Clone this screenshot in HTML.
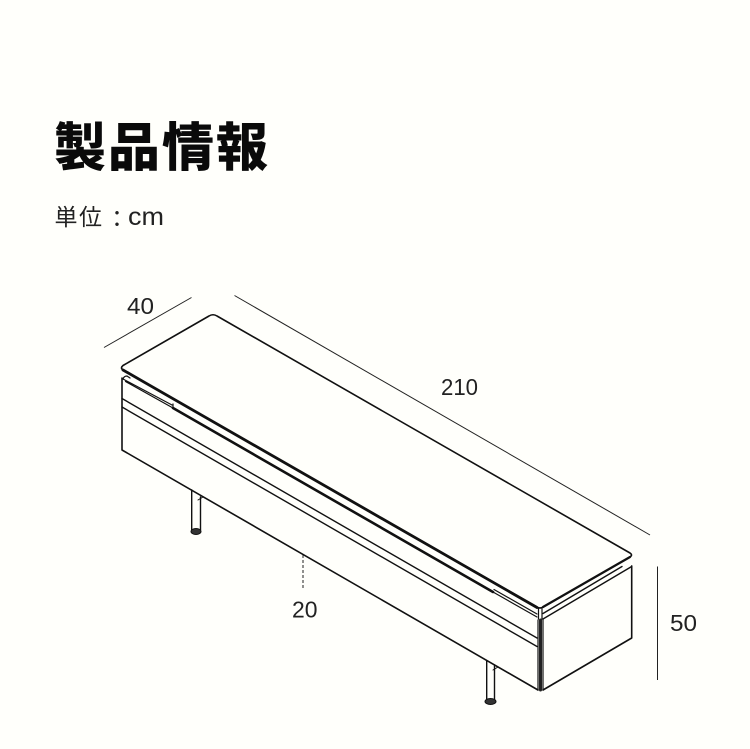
<!DOCTYPE html>
<html lang="ja"><head><meta charset="utf-8"><style>
html,body{margin:0;padding:0;background:#fffffb}
svg{display:block}
text{fill:#222}
.d{font-family:"Liberation Sans",sans-serif;font-size:23px}
.j{font-family:"Liberation Sans","Noto Sans CJK JP",sans-serif}
</style></head><body>
<svg width="750" height="749" viewBox="0 0 750 749" xmlns="http://www.w3.org/2000/svg">
<rect width="750" height="749" fill="#fffffb"/>
<text class="j" x="54" y="166" style="font-size:52px;font-weight:900;letter-spacing:2px;fill:#0a0a0a">製品情報</text>
<text class="j" x="54.500" y="225" style="font-size:23px;letter-spacing:1.5px">単位</text>
<text class="j" x="105.500" y="227" style="font-size:23px">：</text>
<text class="j" x="128" y="225" style="font-size:25px" textLength="36" lengthAdjust="spacingAndGlyphs">cm</text>

<g fill="none" stroke="#111" stroke-linecap="round" stroke-linejoin="round">
<!-- legs -->
<path d="M191.7 490V530M200.5 497V530" stroke-width="1.4"/>
<ellipse cx="196" cy="531.5" rx="5" ry="3" fill="#333" stroke-width="1"/>
<path d="M486.7 661V700M494.5 665V700" stroke-width="1.4"/>
<ellipse cx="490.5" cy="701.5" rx="5.5" ry="3" fill="#333" stroke-width="1"/>
<path d="M198 500L203 497M493 670L498 667" stroke-width="1"/>
<!-- top surface -->
<path d="M123 365.5L209 316Q213 313.5 217 316L630 553Q633 555 630 557L543 607Q540 609 537 607L123 370Q120 368 123 365.5Z" fill="#fffffb" stroke-width="1.6"/>
<path d="M123 370L537 607.5" stroke-width="2.8"/>
<path d="M543 607L630 557" stroke-width="2.2"/>
<!-- body -->
<path d="M122 378V450L538 690" stroke-width="1.6"/>
<path d="M543 690L631.7 638V566" stroke-width="1.6"/>
<path d="M543 619L630 567.5Q631.7 566.5 631.7 566" stroke-width="1.4"/>
<path d="M543 613.5L622 566.5" stroke-width="1.4"/>
<!-- front grooves -->
<path d="M122 398.5L537 638" stroke-width="1.4"/>
<path d="M122 407L537 646.5" stroke-width="1.4"/>
<path d="M173 408L493 592" stroke-width="2.6"/>
<path d="M123 379L172 405M125.500 381.500L173 408V404" stroke-width="1.2"/>
<path d="M123 379Q124 376 127 376L130 378" stroke-width="1.2"/>
<path d="M493 592L537 617M494 589.500L537 614" stroke-width="1.2"/>
<!-- corner post -->
<path d="M538 690V620M543 690V619" stroke-width="1.2"/>
<path d="M540.5 620V690" stroke-width="3" stroke="#222"/>
<path d="M538.500 608V619M542 608V619" stroke-width="1.2"/>
</g>

<!-- dimensions -->
<g fill="none" stroke="#222" stroke-width="1">
<path d="M104 347.500L191.500 297.500"/>
<path d="M234.500 295.500L650 535"/>
<path d="M657.500 566.500V680"/>
<path d="M303 555V590" stroke-dasharray="3 2"/>
</g>
<text class="d" x="127" y="314" textLength="27" lengthAdjust="spacingAndGlyphs">40</text>
<text class="d" x="441" y="395" textLength="37" lengthAdjust="spacingAndGlyphs">210</text>
<text class="d" x="292" y="617.500" textLength="25.500" lengthAdjust="spacingAndGlyphs">20</text>
<text class="d" x="670" y="631" textLength="27" lengthAdjust="spacingAndGlyphs">50</text>
</svg>
</body></html>
